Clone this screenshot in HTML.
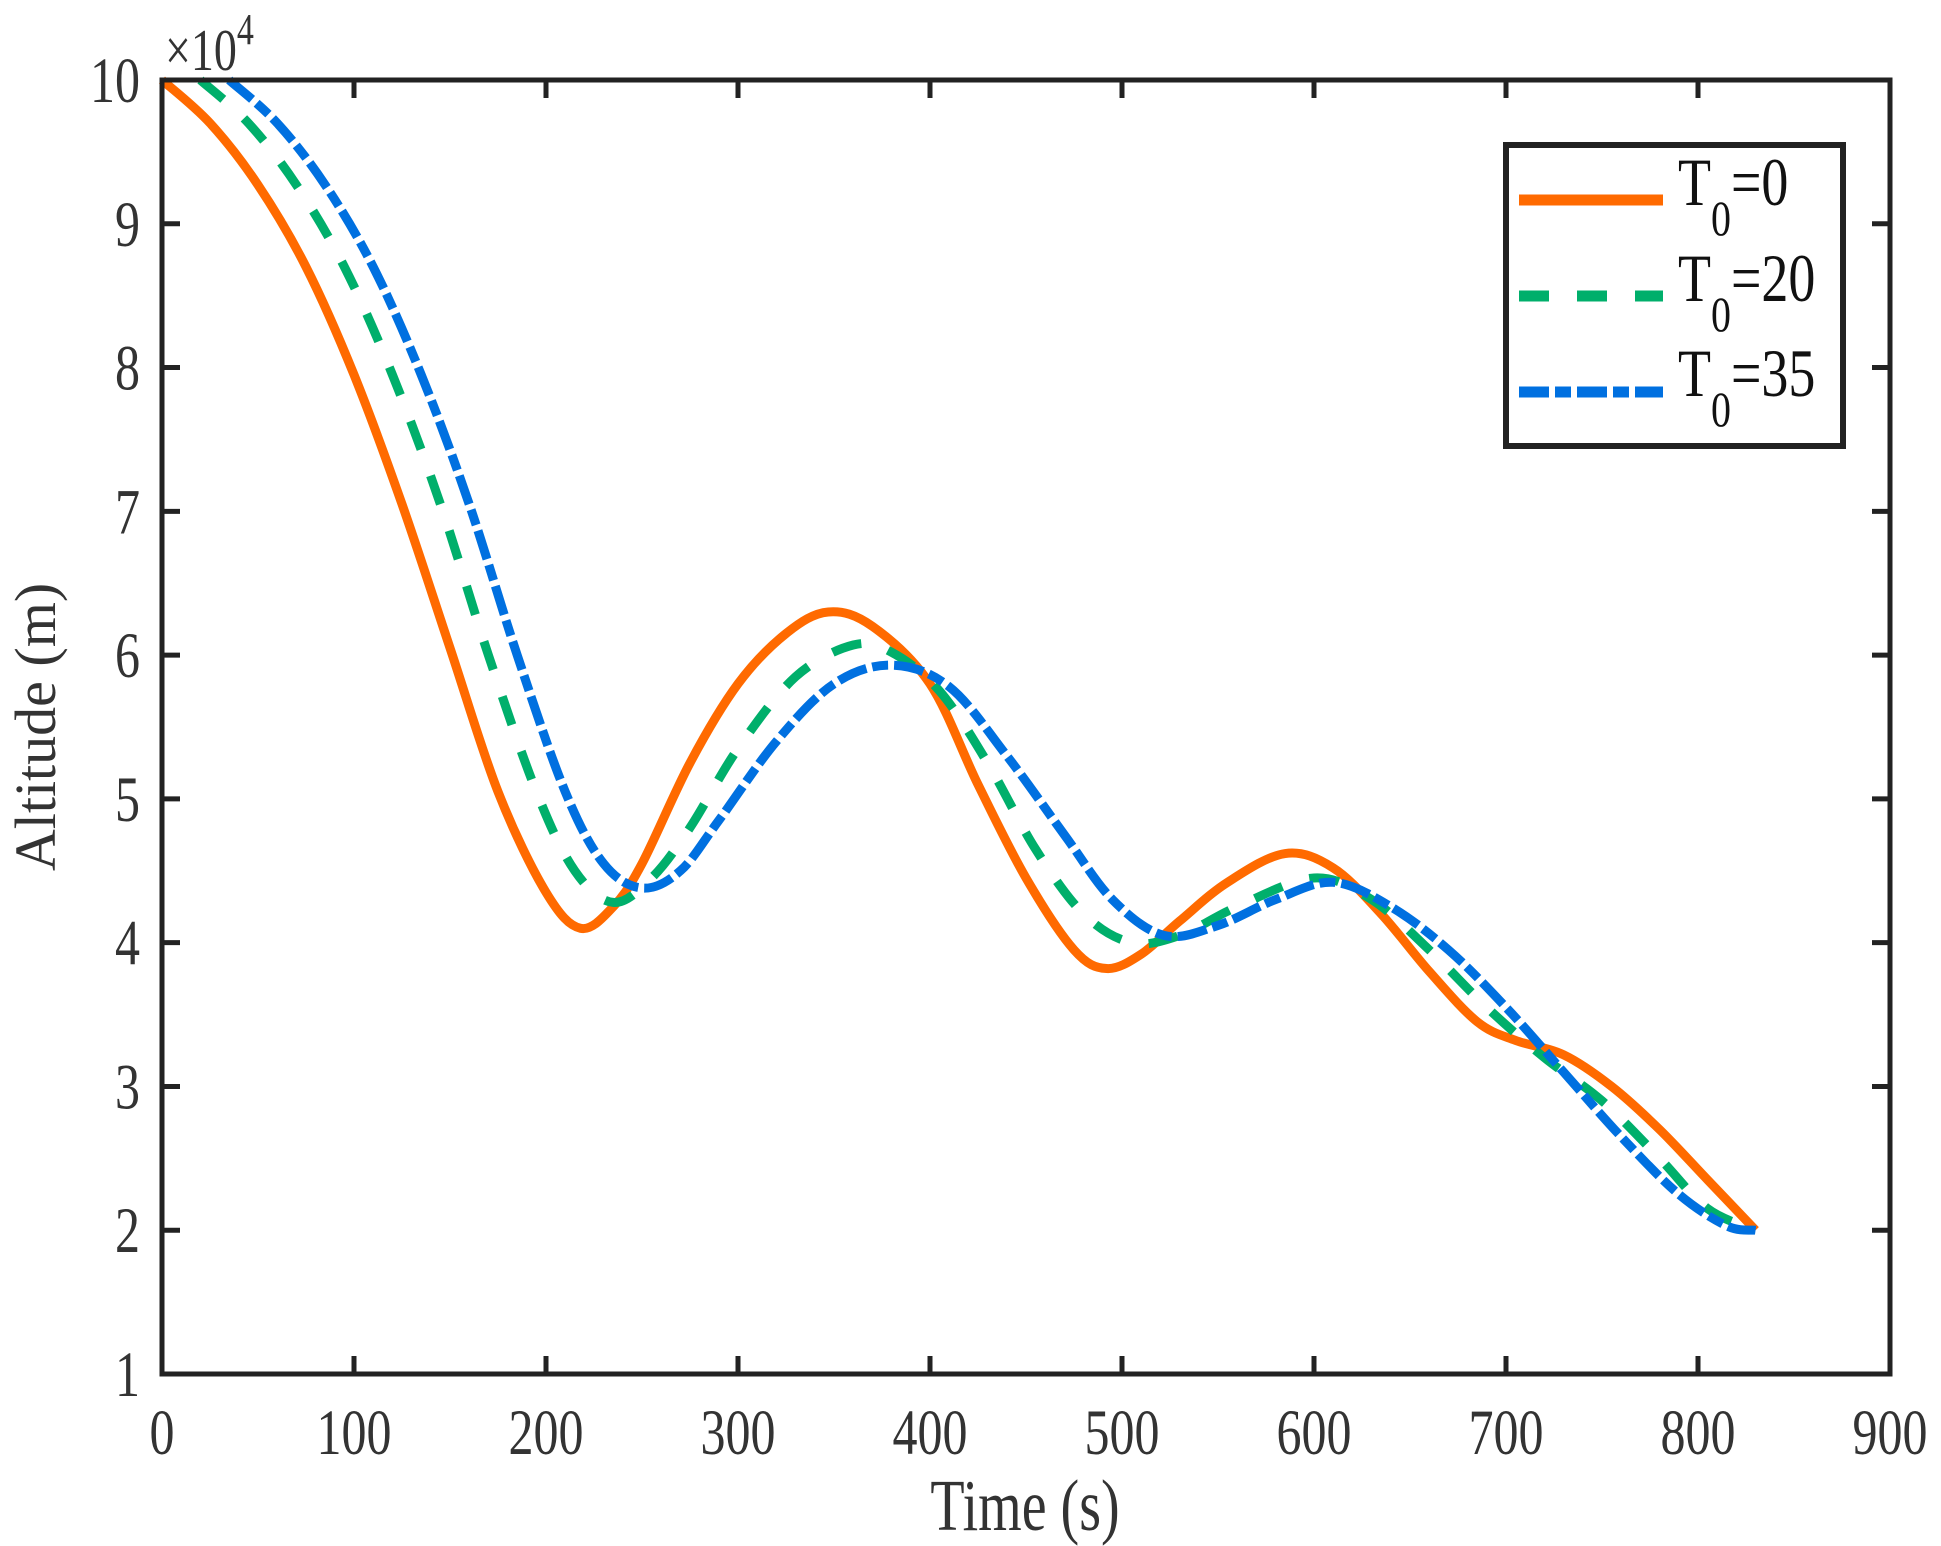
<!DOCTYPE html>
<html><head><meta charset="utf-8"><style>
html,body{margin:0;padding:0;background:#fff;}
svg{display:block;font-family:"Liberation Serif",serif;}
</style></head><body>
<svg id="s" width="1941" height="1546" viewBox="0 0 1941 1546" xmlns="http://www.w3.org/2000/svg">
<g id="plot"></g>
<g id="axes" fill="none" stroke="#222" stroke-width="5"></g>
<g id="labels" fill="#333" font-size="50"></g>
<text transform="translate(1025,1530) scale(1,1.3)" font-size="56" text-anchor="middle" fill="#333">Time (s)</text>
<text transform="translate(55,727) rotate(-90)" font-size="58" text-anchor="middle" fill="#333">Altitude (m)</text>
<text transform="translate(165,70) scale(1,1.3)" font-size="46" fill="#333">×10<tspan dy="-20" font-size="34">4</tspan></text>
<g>
<rect x="1506" y="145" width="337" height="301" fill="#fff" stroke="#222" stroke-width="6"/>
<line x1="1519" y1="200" x2="1663" y2="200" stroke="#FF6A00" stroke-width="11"/>
<line x1="1519" y1="296" x2="1663" y2="296" stroke="#00AF6B" stroke-width="11" stroke-dasharray="30,28"/>
<line x1="1519" y1="392" x2="1663" y2="392" stroke="#0070E0" stroke-width="11" stroke-dasharray="30,6,16,6"/>
<text transform="translate(1678,205) scale(1,1.25)" font-size="54" fill="#111">T<tspan dy="24" font-size="40">0</tspan><tspan dy="-24">=0</tspan></text>
<text transform="translate(1678,301) scale(1,1.25)" font-size="54" fill="#111">T<tspan dy="24" font-size="40">0</tspan><tspan dy="-24">=20</tspan></text>
<text transform="translate(1678,396) scale(1,1.25)" font-size="54" fill="#111">T<tspan dy="24" font-size="40">0</tspan><tspan dy="-24">=35</tspan></text>
</g>
</svg>
<script>
var L=162,R=1890,T=80,B=1374;
function X(t){return L+(R-L)*t/900;}function Y(v){return B-(B-T)*(v-1)/9;}
var NS="http://www.w3.org/2000/svg";
function el(p,n,a){var e=document.createElementNS(NS,n);for(var k in a)e.setAttribute(k,a[k]);p.appendChild(e);return e;}
var ax=document.getElementById('axes'),lb=document.getElementById('labels');
el(ax,'rect',{x:L,y:T,width:R-L,height:B-T});
for(var i=0;i<=9;i++){var x=X(i*100);
 if(i>0&&i<9){el(ax,'line',{x1:x,y1:B,x2:x,y2:B-18});el(ax,'line',{x1:x,y1:T,x2:x,y2:T+18});}
 var t=el(lb,'text',{transform:'translate('+x+',1454) scale(1,1.3)','text-anchor':'middle'});t.textContent=i*100;}
for(var v=1;v<=10;v++){var y=Y(v);
 if(v>1&&v<10){el(ax,'line',{x1:L,y1:y,x2:L+18,y2:y});el(ax,'line',{x1:R,y1:y,x2:R-18,y2:y});}
 var t=el(lb,'text',{transform:'translate(140,'+(y+22)+') scale(1,1.3)','text-anchor':'end'});t.textContent=v;}
function path(pts){var p=pts.map(function(a){return [X(a[0]),Y(a[1])];});
 var d='M'+p[0][0]+','+p[0][1];
 for(var i=0;i<p.length-1;i++){var p0=p[i-1]||p[i],p1=p[i],p2=p[i+1],p3=p[i+2]||p2;
  d+=' C'+(p1[0]+(p2[0]-p0[0])/6)+','+(p1[1]+(p2[1]-p0[1])/6)+' '+(p2[0]-(p3[0]-p1[0])/6)+','+(p2[1]-(p3[1]-p1[1])/6)+' '+p2[0]+','+p2[1];}
 return d;}
var o=[[0,10],[25,9.7],[50,9.27],[75,8.7],[100,7.95],[125,7.05],[150,6.05],[175,5.05],[200,4.35],[218,4.1],[235,4.25],[250,4.55],[275,5.25],[300,5.8],[325,6.15],[347,6.3],[370,6.2],[400,5.8],[425,5.1],[450,4.45],[475,3.95],[492,3.82],[510,3.92],[530,4.15],[555,4.42],[585,4.62],[610,4.52],[635,4.2],[660,3.8],[685,3.45],[705,3.32],[730,3.22],[755,3.0],[780,2.7],[805,2.35],[830,2.0]];
var g=[[20,10],[45,9.7],[70,9.27],[95,8.7],[120,7.95],[145,7.05],[170,6.0],[195,5.05],[215,4.5],[235,4.28],[255,4.45],[275,4.8],[300,5.35],[330,5.85],[360,6.07],[380,6.02],[405,5.75],[430,5.25],[455,4.65],[480,4.2],[505,4.0],[530,4.05],[560,4.25],[600,4.45],[630,4.3],[660,3.95],[690,3.55],[720,3.2],[750,2.9],[780,2.5],[805,2.15],[830,2.0]];
var b=[[35,10],[60,9.7],[85,9.27],[110,8.7],[135,7.95],[160,7.05],[185,6.0],[210,5.05],[230,4.55],[250,4.38],[270,4.5],[290,4.85],[320,5.4],[350,5.8],[380,5.93],[410,5.78],[440,5.3],[470,4.75],[495,4.3],[522,4.05],[550,4.12],[580,4.3],[610,4.42],[640,4.25],[670,3.95],[700,3.55],[730,3.1],[760,2.65],[790,2.25],[815,2.03],[830,2.0]];
var pl=document.getElementById('plot');
el(pl,'path',{d:path(o),fill:'none',stroke:'#FF6A00','stroke-width':9});
el(pl,'path',{d:path(g),fill:'none',stroke:'#00AF6B','stroke-width':9,'stroke-dasharray':'30,28'});
el(pl,'path',{d:path(b),fill:'none',stroke:'#0070E0','stroke-width':9,'stroke-dasharray':'30,6,16,6'});
</script>
</body></html>
